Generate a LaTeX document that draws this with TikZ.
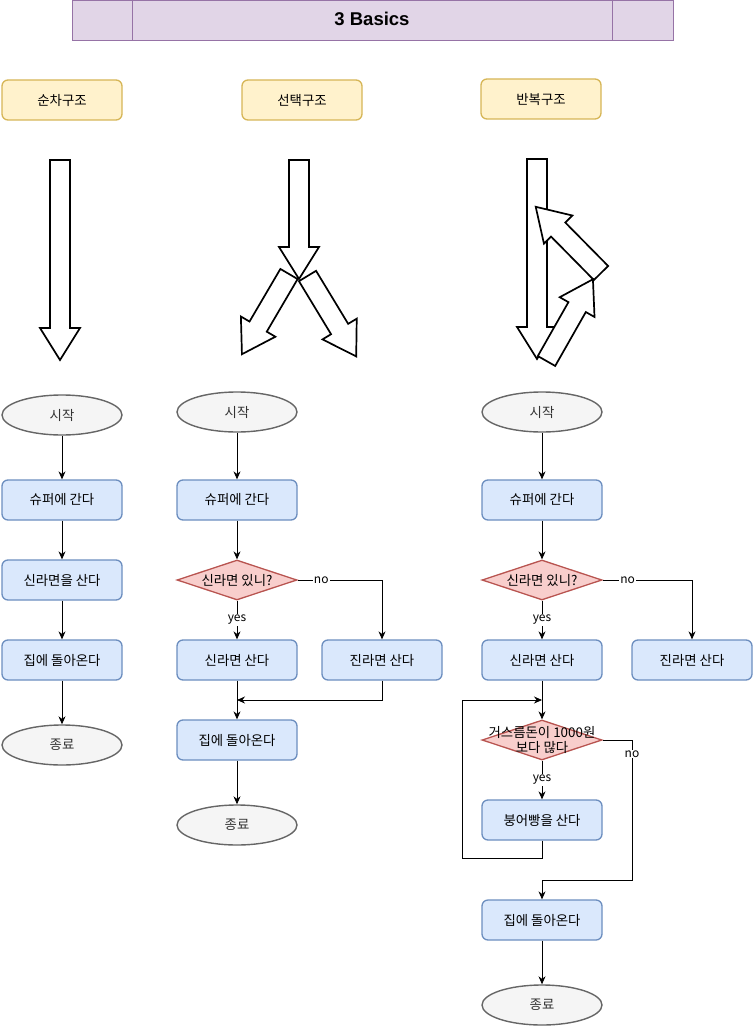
\documentclass[tikz,border=0pt]{standalone}
\usepackage{fontspec}
\setmainfont{Noto Sans CJK KR}
\newfontfamily\headfont{Liberation Sans}
\usetikzlibrary{shapes.geometric,arrows.meta}

\definecolor{headfill}{HTML}{E1D5E7}
\definecolor{headline}{HTML}{9673A6}
\definecolor{kindfill}{HTML}{FFF2CC}
\definecolor{kindline}{HTML}{D6B656}
\definecolor{termfill}{HTML}{F5F5F5}
\definecolor{termline}{HTML}{666666}
\definecolor{procfill}{HTML}{DAE8FC}
\definecolor{procline}{HTML}{6C8EBF}
\definecolor{condfill}{HTML}{F8CECC}
\definecolor{condline}{HTML}{B85450}

\tikzset{
  kind/.style={rectangle,rounded corners=6pt,draw=kindline,fill=kindfill,line width=1.3pt,minimum width=120pt,minimum height=40pt},
  term/.style={ellipse,draw=termline,fill=termfill,line width=1.4pt,minimum width=120pt,minimum height=40pt,inner sep=0pt,text=black!80},
  proc/.style={rectangle,rounded corners=6pt,draw=procline,fill=procfill,line width=1.3pt,minimum width=120pt,minimum height=40pt},
  cond/.style={diamond,draw=condline,fill=condfill,line width=1.3pt,minimum width=120pt,minimum height=40pt,inner sep=0pt},
  flow/.style={-{Stealth[length=8pt,width=7pt]},line width=0.8pt},
  tag/.style={fill=white,inner sep=1pt,font=\fontsize{12}{14}\selectfont},
  barrow/.style={draw=black,line width=1.7pt,fill=white,line join=miter}
}

% tail point, angle, length
\newcommand{\bigarrow}[3]{%
  \draw[barrow,shift={(#1)},rotate=#2]
    (0,-10) -- ({#3-32},-10) -- ({#3-32},-20) -- (#3,0)
    -- ({#3-32},20) -- ({#3-32},10) -- (0,10) -- cycle;}

\begin{document}
\begin{tikzpicture}[x=1pt,y=-1pt,font=\fontsize{13.4}{15}\selectfont]
    \useasboundingbox (0,0) rectangle (753,1032);

    % --- Title
    \draw[draw=headline,fill=headfill] (72,0.5) rectangle (673,40);
    \draw[headline] (132,0.5) -- (132,40);
    \draw[headline] (612,0.5) -- (612,40);
    \node (title) at (372,19) {\headfont\bfseries\fontsize{18.5}{20}\selectfont 3 Basics};

    \node[kind] (seq) at (62,100) {순차구조};
    \node[kind] (sel) at (302,100) {선택구조};
    \node[kind] (rep) at (541,99) {반복구조};

    % --- 큰 화살표
    \bigarrow{60,160}{-90}{200}
    \bigarrow{289,274}{-120.4}{93}
    \bigarrow{307.5,276}{-58.8}{94}
    \bigarrow{299,160}{-90}{119}

    \bigarrow{537,159}{-90}{200}
    \bigarrow{601,273}{134.6}{93}
    \bigarrow{546.5,361}{60.4}{94}

    % --- 순차구조
    \node[term] (start1) at (62,415) {시작};
    \node[proc] (go1) at (62,500) {슈퍼에 간다};
    \node[proc] (buy1) at (62,580) {신라면을 산다};
    \node[proc] (home1) at (62,660) {집에 돌아온다};
    \node[term] (end1) at (62,745) {종료};

    \draw[flow] (start1) -- (go1);
    \draw[flow] (go1) -- (buy1);
    \draw[flow] (buy1) -- (home1);
    \draw[flow] (home1) -- (end1);

    % --- 선택구조
    \node[term] (start2) at (237,412) {시작};
    \node[proc] (go2) at (237,500) {슈퍼에 간다};
    \node[cond,label=center:{신라면 있니?}] (ask2) at (237,580) {};
    \node[proc] (shin2) at (237,660) {신라면 산다};
    \node[proc] (jin2) at (382,660) {진라면 산다};
    \node[proc] (home2) at (237,740) {집에 돌아온다};
    \node[term] (end2) at (237,825) {종료};
    \coordinate (join2) at (237,700);

    \draw[flow] (start2) -- (go2);
    \draw[flow] (go2) -- (ask2);
    \draw[flow] (ask2) -- node[tag] {yes} (shin2);
    \draw[flow] (ask2.east) -| node[tag,pos=0.14] {no} (jin2);
    \draw[flow] (jin2.south) |- (join2);
    \draw[flow] (shin2) -- (home2);
    \draw[flow] (home2) -- (end2);

    % --- 반복구조
    \node[term] (start3) at (542,412) {시작};
    \node[proc] (go3) at (542,500) {슈퍼에 간다};
    \node[cond,label=center:{신라면 있니?}] (ask3) at (542,580) {};
    \node[proc] (shin3) at (542,660) {신라면 산다};
    \node[proc] (jin3) at (692,660) {진라면 산다};
    \node[cond,label={[align=center]center:거스름돈이 1000원\\보다 많다}] (more3) at (542,740) {};
    \node[proc] (fish3) at (542,820) {붕어빵을 산다};
    \node[proc] (home3) at (542,920) {집에 돌아온다};
    \node[term] (end3) at (542,1005) {종료};
    \coordinate (back3) at (462,858);
    \coordinate (loop3) at (542,700);
    \coordinate (out3) at (632,880);

    \draw[flow] (start3) -- (go3);
    \draw[flow] (go3) -- (ask3);
    \draw[flow] (ask3) -- node[tag] {yes} (shin3);
    \draw[flow] (ask3.east) -| node[tag,pos=0.14] {no} (jin3);
    \draw[flow] (shin3) -- (more3);
    \draw[flow] (more3) -- node[tag] {yes} (fish3);
    \draw[flow] (fish3.south) |- (back3) |- (loop3);
    \draw[flow] (more3.east) -| node[tag,pos=0.55] {no} (out3) -| (home3);
    \draw[flow] (home3) -- (end3);
\end{tikzpicture}
\end{document}
